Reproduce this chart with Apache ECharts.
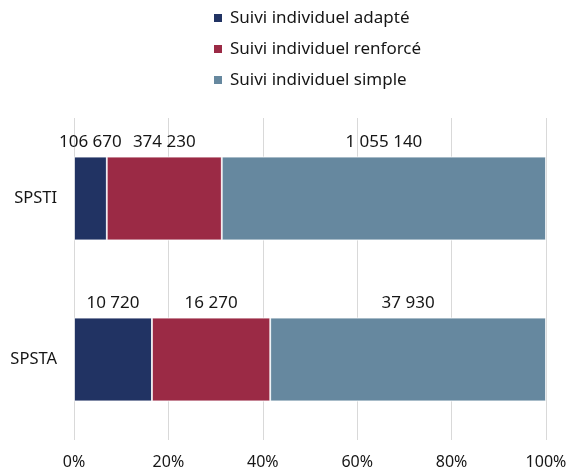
<!DOCTYPE html>
<html>
<head>
<meta charset="utf-8">
<script src="https://cdn.jsdelivr.net/npm/echarts@6/dist/echarts.min.js"></script>
<style>
  html, body { margin: 0; padding: 0; background: #fff; }
  #chart { width: 568px; height: 473px; }
</style>
</head>
<body>
<div id="chart"></div>
<script>
// catégories (de bas en haut pour l'axe Y)
const categories = ['SPSTA', 'SPSTI']
const seriesNames = ['Suivi individuel adapté', 'Suivi individuel renforcé', 'Suivi individuel simple']
const adapte = [10720, 106670]
const renforce = [16270, 374230]
const simple = [37930, 1055140]
const xTicks = [0, 20, 40, 60, 80, 100]

const colors = ['#213363', '#9b2a45', '#66889f']
const font = 'Noto Sans'

const totals = categories.map((c, i) => adapte[i] + renforce[i] + simple[i])

// format "1 055 140"
function fmt(v) {
  return String(v).replace(/\B(?=(\d{3})+(?!\d))/g, ' ')
}

function buildSeries(name, raw, color) {
  return {
    name: name,
    type: 'bar',
    stack: 'total',
    barWidth: '52%',
    data: raw.map((v, i) => ({ value: v / totals[i] * 100, raw: v })),
    itemStyle: {
      color: color,
      borderColor: '#fff',
      borderWidth: 0.8,
    },
    label: {
      show: true,
      position: 'top',
      distance: 6,
      color: '#161616',
      fontSize: 17,
      fontFamily: font,
      formatter: function (p) {
        return fmt(p.data.raw)
      },
    },
  }
}

const chart = echarts.init(document.getElementById('chart'))
const option = {
  animation: false,
  legend: {
    orient: 'vertical',
    left: 207,
    top: 3,
    itemWidth: 10,
    itemHeight: 10,
    itemGap: 11,
    icon: 'rect',
    textStyle: {
      color: '#161616',
      fontSize: 17,
      lineHeight: 20,
      fontFamily: font,
      padding: [0, 0, 0, 2],
    },
    data: seriesNames,
  },
  grid: {
    left: 74,
    right: 22,
    top: 118,
    bottom: 33,
    containLabel: false,
    outerBoundsMode: 'none',
  },
  xAxis: {
    type: 'value',
    min: 0,
    max: 100,
    interval: 20,
    axisLine: { show: false },
    axisTick: { show: false },
    splitLine: { lineStyle: { color: '#d9d9d9', width: 1 } },
    axisLabel: {
      color: '#161616',
      fontSize: 16,
      fontFamily: font,
      margin: 14,
      formatter: function (v) {
        return xTicks.indexOf(v) >= 0 ? v + '%' : ''
      },
    },
  },
  yAxis: {
    type: 'category',
    data: categories,
    axisLine: { show: false },
    axisTick: { show: false },
    axisLabel: {
      color: '#161616',
      fontSize: 16.5,
      fontFamily: font,
      margin: 17,
    },
  },
  series: [
    buildSeries(seriesNames[0], adapte, colors[0]),
    buildSeries(seriesNames[1], renforce, colors[1]),
    buildSeries(seriesNames[2], simple, colors[2]),
  ],
}
chart.setOption(option)
</script>
</body>
</html>
